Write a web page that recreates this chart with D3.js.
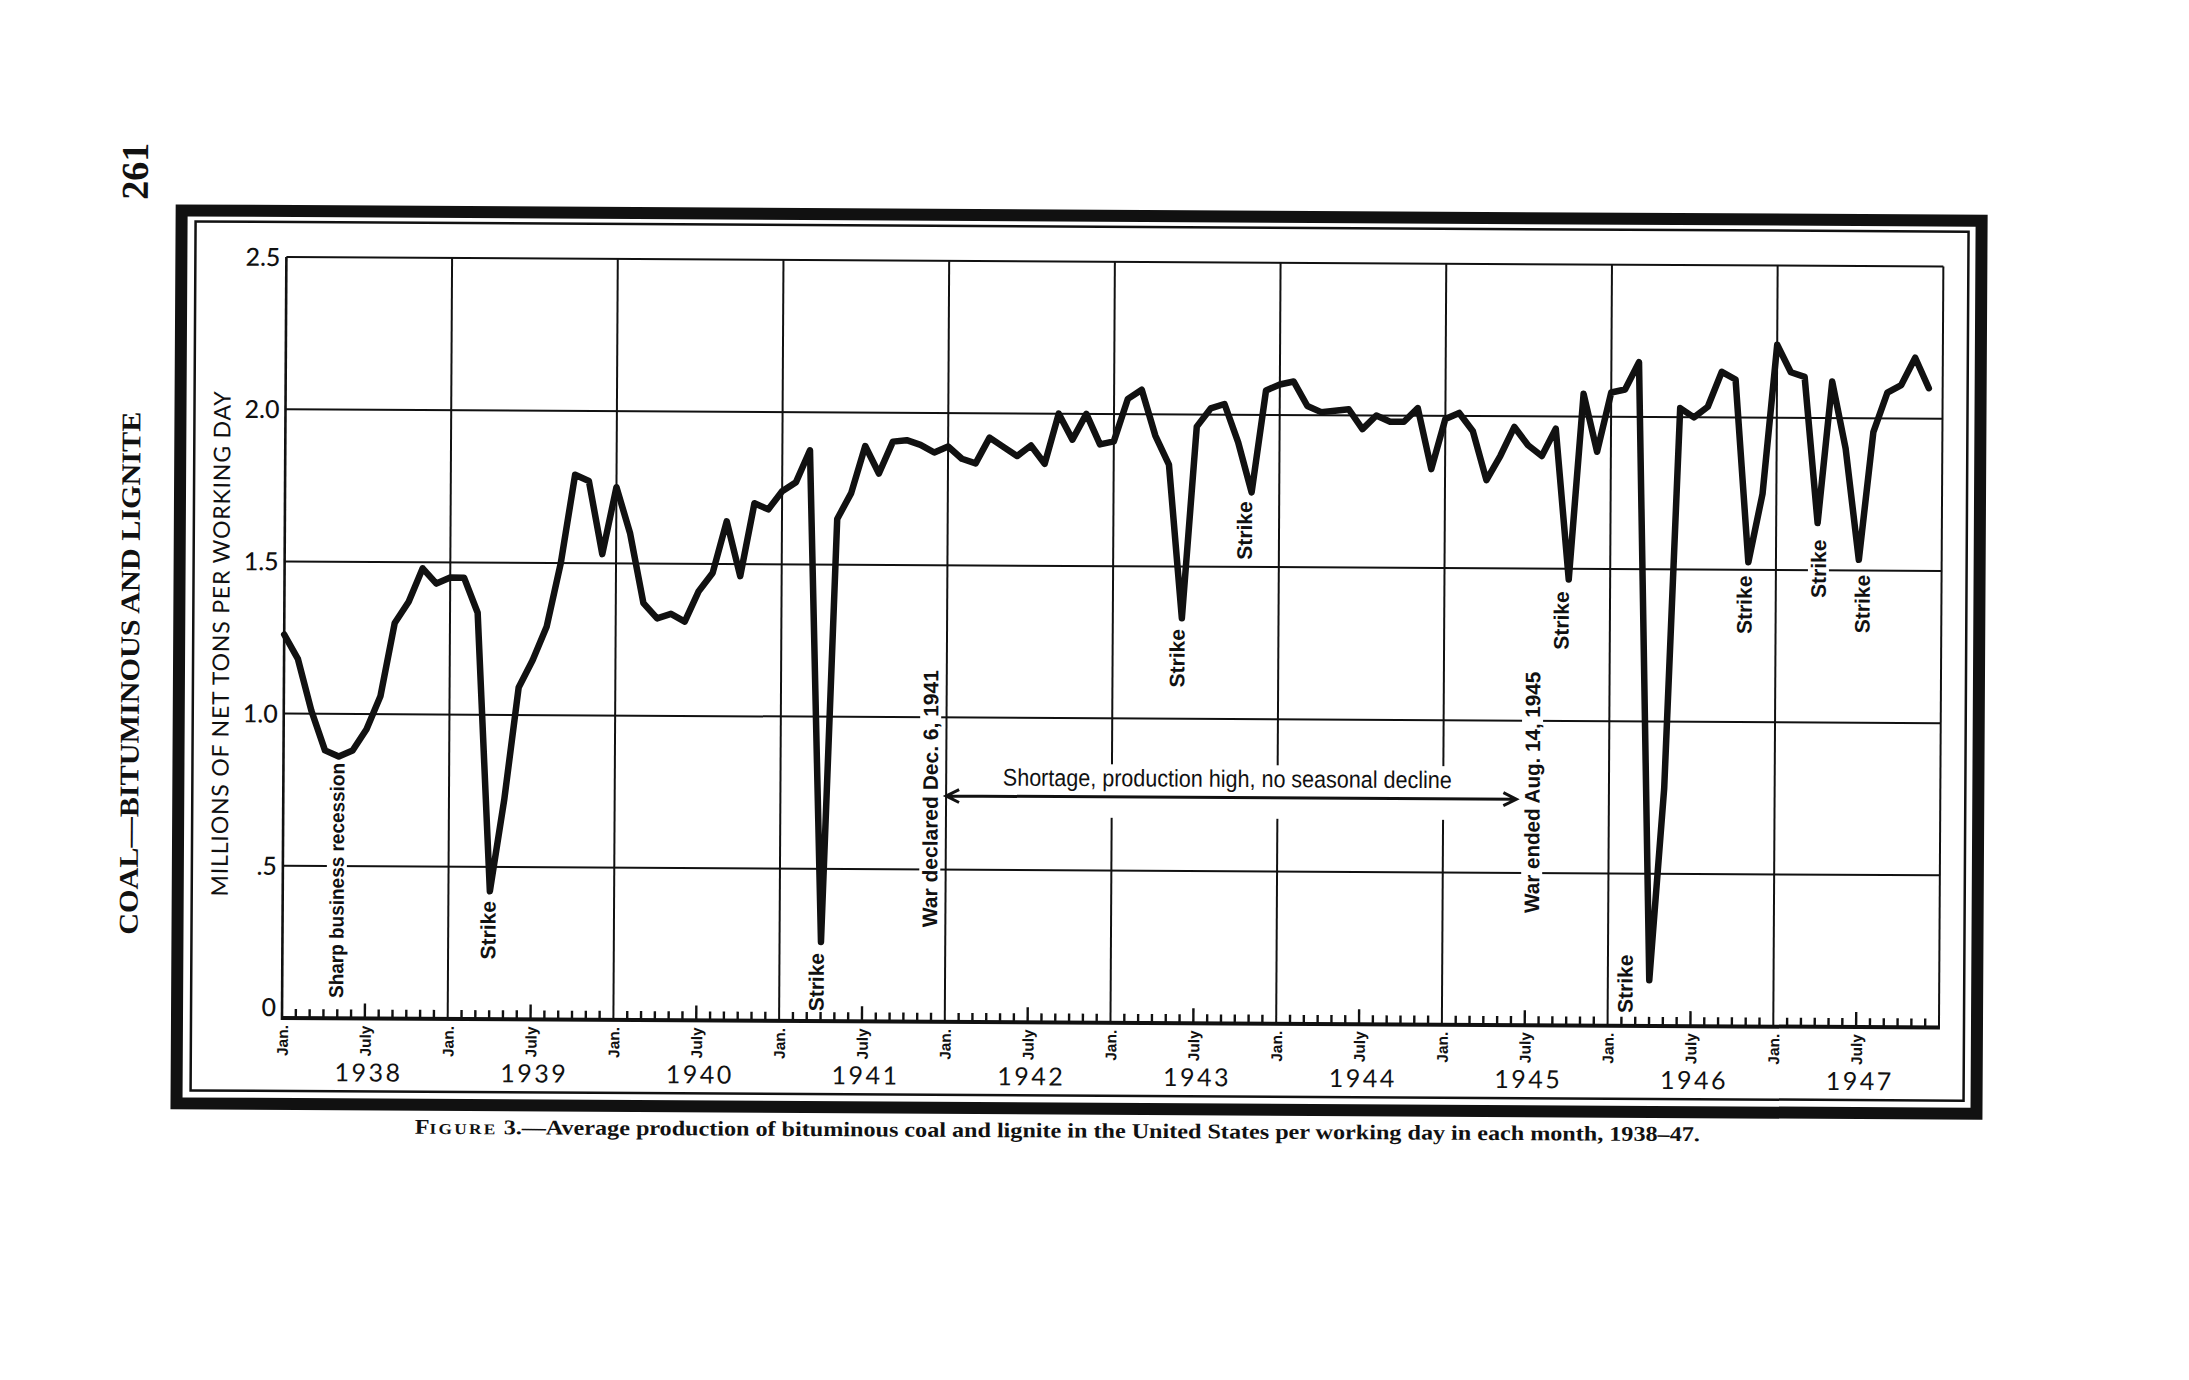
<!DOCTYPE html>
<html>
<head>
<meta charset="utf-8">
<script src="https://cdn.jsdelivr.net/npm/d3@7"></script>
<style>
html, body { margin: 0; padding: 0; background: #fff; }
svg { display: block; }
</style>
</head>
<body>
<svg id="chart" width="2189" height="1380"></svg>
<script>
// ---------------- DATA ----------------
const years = [1938, 1939, 1940, 1941, 1942, 1943, 1944, 1945, 1946, 1947];

// Millions of net tons per working day, Jan 1938 .. Dec 1947 (one value per month)
const dailyOutput = [
  1.26, 1.18, 1.01, 0.88, 0.86, 0.88, 0.95, 1.06, 1.30, 1.37, 1.48, 1.43,   // 1938
  1.45, 1.45, 1.335, 0.42, 0.72, 1.09, 1.18, 1.29, 1.50, 1.79, 1.77, 1.53,  // 1939
  1.75, 1.60, 1.37, 1.32, 1.335, 1.31, 1.41, 1.47, 1.64, 1.46, 1.70, 1.68,  // 1940
  1.74, 1.77, 1.875, 0.26, 1.65, 1.735, 1.89, 1.80, 1.905, 1.91, 1.895, 1.87, // 1941
  1.89, 1.85, 1.835, 1.92, 1.89, 1.86, 1.895, 1.835, 2.00, 1.915, 2.00, 1.90, // 1942
  1.91, 2.05, 2.08, 1.93, 1.835, 1.33, 1.96, 2.02, 2.035, 1.91, 1.745, 2.08,  // 1943
  2.10, 2.11, 2.03, 2.01, 2.015, 2.02, 1.955, 2.00, 1.98, 1.98, 2.025, 1.825, // 1944
  1.99, 2.01, 1.95, 1.79, 1.87, 1.965, 1.905, 1.87, 1.96, 1.465, 2.075, 1.885,// 1945
  2.08, 2.09, 2.18, 0.15, 0.78, 2.03, 2.00, 2.035, 2.15, 2.125, 1.525, 1.75,  // 1946
  2.24, 2.15, 2.135, 1.655, 2.12, 1.90, 1.535, 1.955, 2.085, 2.11, 2.20, 2.10 // 1947
];

const yTickValues = [0, 0.5, 1.0, 1.5, 2.0, 2.5];
const yTickLabels = ["0", ".5", "1.0", "1.5", "2.0", "2.5"];
const monthTickNames = ["Jan.", "July"];

// Annotation anchors in data units (month index from Jan 1938, level in millions of tons)
const strikeMonths = [14.88, 38.67, 64.66, 69.5, 92.47, 97.25, 105.72, 111.08, 114.26];
const strikeLevels = [0.292, 0.128, 1.199, 1.62, 1.33, 0.138, 1.385, 1.505, 1.39];

const noteTexts  = ["Sharp business recession", "War declared Dec. 6, 1941", "War ended Aug. 14, 1945"];
const noteMonths = [3.91, 46.85, 90.44];
const noteLevels = [0.453, 0.733, 0.765];

const shortageText = "Shortage, production high, no seasonal decline";
const shortageMonth = 68.36, shortageLevel = 0.777;
const arrowMonths = [48, 89.3];
const arrowLevel = 0.742;

const yTitle = "MILLIONS OF NET TONS PER WORKING DAY";
const pageHeader = "COAL\u2014BITUMINOUS AND LIGNITE";
const pageNumber = "261";
const captionLead = ["F", "IGURE"];
const captionRest = " 3.\u2014Average production of bituminous coal and lignite in the United States per working day in each month, 1938\u201347.";

// ---------------- LAYOUT ----------------
const svg = d3.select("#chart");
const ink = "#111";
const SANS = "'Liberation Sans', Arial, Helvetica, sans-serif";
const SERIF = "'Liberation Serif', 'Times New Roman', serif";

const x = d3.scaleLinear().domain([0, 120]).range([282, 1939]);
const y = d3.scaleLinear().domain([0, 2.5]).range([1018, 257]);

// whole scanned page is slightly rotated
const g = svg.append("g").attr("transform", "rotate(0.33, 281, 1018)");

// page frame
g.append("rect").attr("x", 177).attr("y", 211).attr("width", 1977 - 177).attr("height", 1104 - 211)
  .attr("fill", "none").attr("stroke", ink).attr("stroke-width", 12);
g.append("rect").attr("x", 191).attr("y", 222).attr("width", 1964 - 191).attr("height", 1091 - 222)
  .attr("fill", "none").attr("stroke", ink).attr("stroke-width", 2.5);

const gridL = g.append("g");
const bgL = g.append("g");
const axisL = g.append("g");
const textL = g.append("g");
const lineL = g.append("g");

// horizontal grid lines (0.5 .. 2.5)
gridL.selectAll("line.h").data(yTickValues.filter(v => v > 0)).join("line")
  .attr("x1", x(0)).attr("x2", x(120))
  .attr("y1", d => y(d)).attr("y2", d => y(d))
  .attr("stroke", ink).attr("stroke-width", 2);

// vertical grid lines at each January + right edge
const janIdx = d3.range(12, 121, 12);
gridL.selectAll("line.v").data(janIdx).join("line")
  .attr("x1", d => x(d)).attr("x2", d => x(d))
  .attr("y1", y(0)).attr("y2", y(2.5))
  .attr("stroke", ink).attr("stroke-width", 2);

// y axis line
axisL.append("line").attr("x1", x(0)).attr("x2", x(0)).attr("y1", y(0) + 2).attr("y2", y(2.5))
  .attr("stroke", ink).attr("stroke-width", 2.6);
// x axis thick line
axisL.append("line").attr("x1", x(0) - 1).attr("x2", x(120) + 1).attr("y1", y(0)).attr("y2", y(0))
  .attr("stroke", ink).attr("stroke-width", 4);
// monthly ticks (pointing up)
const tickIdx = d3.range(1, 120).filter(i => i % 12 !== 0);
axisL.selectAll("line.t").data(tickIdx).join("line")
  .attr("x1", d => x(d)).attr("x2", d => x(d))
  .attr("y1", y(0)).attr("y2", d => y(0) - (d % 12 === 6 ? 15 : 9))
  .attr("stroke", ink).attr("stroke-width", 2.4);

// y tick labels
textL.selectAll("text.yl").data(yTickValues).join("text")
  .attr("x", x(0) - 6)
  .attr("y", d => d === 0 ? y(0) - 2 : y(d) + 9)
  .attr("text-anchor", "end")
  .attr("font-family", "Lato, " + SANS).attr("font-size", 25).attr("font-weight", 500).attr("fill", ink)
  .text((d, i) => yTickLabels[i]);

// y axis title
textL.append("text")
  .attr("transform", `translate(218, ${y(1.228)}) rotate(-90)`)
  .attr("text-anchor", "middle").attr("dominant-baseline", "central")
  .attr("font-family", "Lato, " + SANS).attr("font-size", 23).attr("fill", ink)
  .attr("textLength", 505).attr("lengthAdjust", "spacing")
  .text(yTitle);

// month labels (Jan., July) rotated
const monthLabelIdx = d3.range(0, 120, 6);
textL.selectAll("text.ml").data(monthLabelIdx).join("text")
  .attr("transform", d => `translate(${x(d) + 6}, ${y(0) + 7}) rotate(-90)`)
  .attr("text-anchor", "end")
  .attr("font-family", SANS).attr("font-weight", "bold").attr("font-size", 15.5).attr("fill", ink)
  .text(d => monthTickNames[(d % 12) / 6]);

// year labels
textL.selectAll("text.yr").data(years).join("text")
  .attr("x", (d, i) => x(i * 12 + 6) + 4)
  .attr("y", y(0) + 63)
  .attr("text-anchor", "middle")
  .attr("font-family", "Lato, " + SANS).attr("font-size", 25).attr("letter-spacing", 2.5).attr("fill", ink)
  .text(d => d);

// helper: rotated label with white knock-out behind it
function rotatedLabel(cx, cy, txt, opts) {
  const t = textL.append("text")
    .attr("transform", `translate(${cx}, ${cy}) rotate(-90)`)
    .attr("text-anchor", "middle").attr("dominant-baseline", "central")
    .attr("font-family", SANS).attr("font-weight", opts.weight || "bold")
    .attr("font-size", opts.size).attr("fill", ink)
    .text(txt);
  if (opts.length) t.attr("textLength", opts.length).attr("lengthAdjust", "spacingAndGlyphs");
  const b = t.node().getBBox();
  const p = opts.pad == null ? 2 : opts.pad;
  bgL.append("rect")
    .attr("transform", `translate(${cx}, ${cy}) rotate(-90)`)
    .attr("x", b.x - p).attr("y", b.y + 1).attr("width", b.width + 2 * p).attr("height", b.height - 2)
    .attr("fill", "#fff");
}

// Strike labels
strikeMonths.forEach((m, i) => rotatedLabel(x(m), y(strikeLevels[i]), "Strike", { size: 21 }));

// other vertical notes
rotatedLabel(x(noteMonths[0]), y(noteLevels[0]), noteTexts[0], { size: 20, length: 235, pad: 3 });
rotatedLabel(x(noteMonths[1]), y(noteLevels[1]), noteTexts[1], { size: 21, length: 257, pad: 3 });
rotatedLabel(x(noteMonths[2]), y(noteLevels[2]), noteTexts[2], { size: 21, length: 241, pad: 3 });

// shortage band: knock-out, text and double arrow
bgL.append("rect")
  .attr("x", x(arrowMonths[0]) + 8).attr("y", y(shortageLevel) - 22)
  .attr("width", x(arrowMonths[1]) - x(arrowMonths[0]) - 16)
  .attr("height", (y(arrowLevel) + 21) - (y(shortageLevel) - 22))
  .attr("fill", "#fff");
textL.append("text")
  .attr("x", x(shortageMonth)).attr("y", y(shortageLevel))
  .attr("text-anchor", "middle")
  .attr("font-family", "'Liberation Sans Narrow', " + SANS).attr("font-size", 24).attr("fill", ink)
  .attr("textLength", 449).attr("lengthAdjust", "spacingAndGlyphs")
  .text(shortageText);
const ax0 = x(arrowMonths[0]), ax1 = x(arrowMonths[1]), ay = y(arrowLevel);
textL.append("path")
  .attr("d", `M${ax0},${ay}H${ax1}M${ax0 + 13},${ay - 6.5}L${ax0},${ay}L${ax0 + 13},${ay + 6.5}` +
             `M${ax1 - 13},${ay - 6.5}L${ax1},${ay}L${ax1 - 13},${ay + 6.5}`)
  .attr("fill", "none").attr("stroke", ink).attr("stroke-width", 3);

// data line
lineL.append("path")
  .datum(dailyOutput)
  .attr("d", d3.line().x((d, i) => x(i)).y(d => y(d)))
  .attr("fill", "none").attr("stroke", ink).attr("stroke-width", 6.5)
  .attr("stroke-linejoin", "round").attr("stroke-linecap", "round");

// caption
const cap = g.append("text")
  .attr("x", 1058).attr("y", 1133)
  .attr("text-anchor", "middle")
  .attr("font-family", SERIF).attr("font-weight", "bold").attr("fill", ink)
  .attr("textLength", 1285).attr("lengthAdjust", "spacingAndGlyphs");
cap.append("tspan").attr("font-size", 21).text(captionLead[0]);
cap.append("tspan").attr("font-size", 15).attr("letter-spacing", 2).text(captionLead[1]);
cap.append("tspan").attr("font-size", 21).text(captionRest);

// page running head and page number (rotated)
g.append("text")
  .attr("transform", "translate(128, 674) rotate(-90)")
  .attr("text-anchor", "middle").attr("dominant-baseline", "central")
  .attr("font-family", SERIF).attr("font-weight", "bold").attr("font-size", 27).attr("fill", ink)
  .attr("textLength", 523).attr("lengthAdjust", "spacingAndGlyphs")
  .text(pageHeader);
g.append("text")
  .attr("transform", "translate(130, 172) rotate(-90)")
  .attr("text-anchor", "middle").attr("dominant-baseline", "central")
  .attr("font-family", SERIF).attr("font-weight", "bold").attr("font-size", 38).attr("fill", ink)
  .text(pageNumber);
</script>
</body>
</html>
